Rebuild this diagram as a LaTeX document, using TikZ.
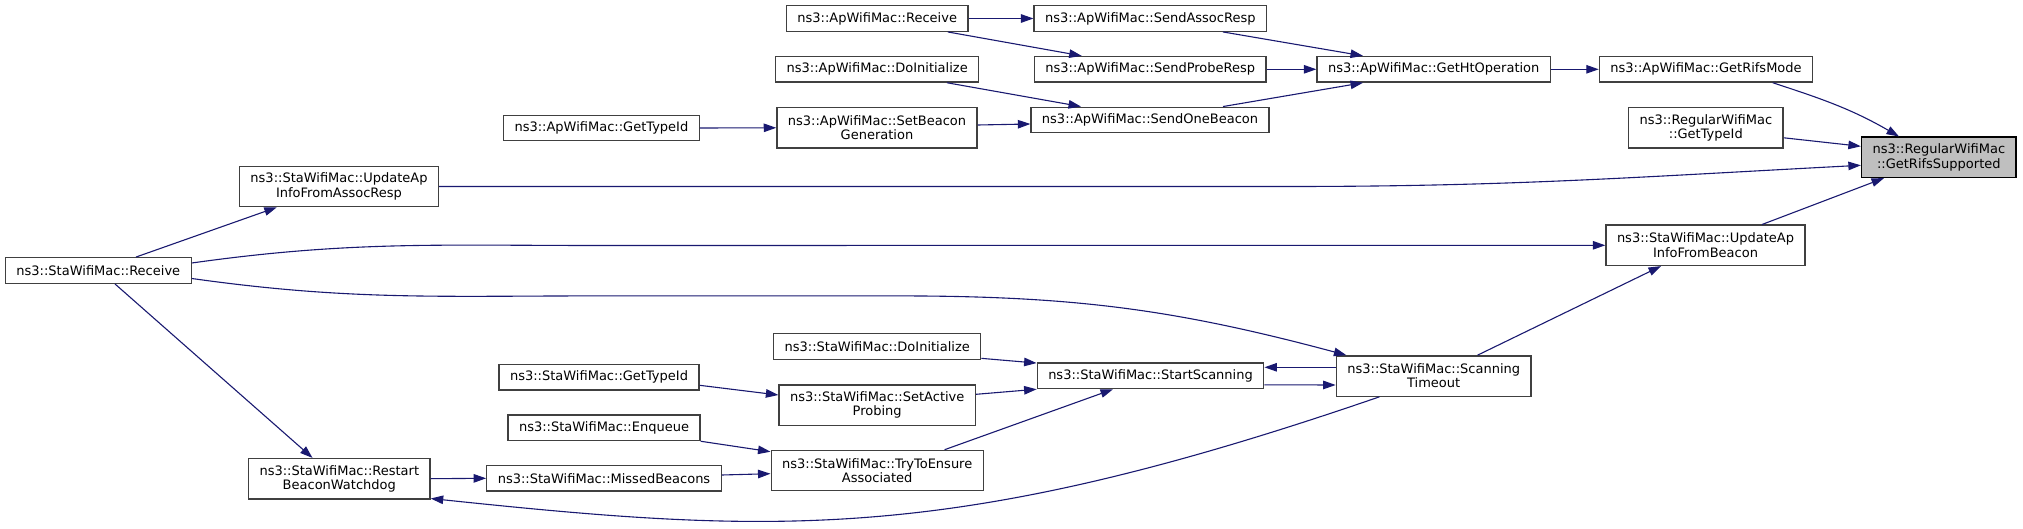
\documentclass[tikz,border=0pt]{standalone}
\usepackage{fontspec}
\setmainfont{DejaVu Sans}
\usepackage{tikz}
\usetikzlibrary{arrows.meta,calc}
\definecolor{edgeblue}{HTML}{191970}
\definecolor{boxline}{HTML}{404040}
\definecolor{hlfill}{HTML}{BFBFBF}

\begin{document}
\begin{tikzpicture}[x=1pt,y=1pt,
  font=\fontsize{13pt}{14.3pt}\selectfont,
  >={Triangle[length=12.5pt,width=8.5pt]},
  fn/.style={draw=boxline,line width=1.3pt,fill=white,inner xsep=11pt,inner ysep=2pt,minimum height=25.6pt,align=center},
  fnn/.style={fn,minimum height=40.3pt},
  hl/.style={fnn,draw=black,fill=hlfill},
  edge/.style={->,draw=edgeblue,line width=1.1pt}]
\useasboundingbox (0,0) rectangle (2023,-529);

% ApWifiMac side
\node[fn] (apRecv) at (877.2,-18.5) {ns3::ApWifiMac::Receive};
\node[fn] (apAssoc) at (1150.3,-18.5) {ns3::ApWifiMac::SendAssocResp};
\node[fn] (apInit) at (877.2,-69.3) {ns3::ApWifiMac::DoInitialize};
\node[fn] (apProbe) at (1150.2,-69.3) {ns3::ApWifiMac::SendProbeResp};
\node[fn] (apHt) at (1433.7,-69.3) {ns3::ApWifiMac::GetHtOperation};
\node[fn] (apRifs) at (1706,-69.3) {ns3::ApWifiMac::GetRifsMode};
\node[fn] (apType) at (601.4,-128) {ns3::ApWifiMac::GetTypeId};
\node[fnn] (apBeaconGen) at (877,-127.8) {ns3::ApWifiMac::SetBeacon\\Generation};
\node[fn] (apOneBeacon) at (1150,-120) {ns3::ApWifiMac::SendOneBeacon};
\node[fnn] (regType) at (1705.8,-127.8) {ns3::RegularWifiMac\\::GetTypeId};
\node[hl] (rifs) at (1938.8,-157.3) {ns3::RegularWifiMac\\::GetRifsSupported};

% StaWifiMac side
\node[fnn] (staAssoc) at (339,-186.5) {ns3::StaWifiMac::UpdateAp\\InfoFromAssocResp};
\node[fnn] (staBeacon) at (1705.5,-245.3) {ns3::StaWifiMac::UpdateAp\\InfoFromBeacon};
\node[fn] (staRecv) at (98.3,-270.5) {ns3::StaWifiMac::Receive};
\node[fn] (staInit) at (877.2,-346.5) {ns3::StaWifiMac::DoInitialize};
\node[fn] (staScan) at (1150.5,-375.8) {ns3::StaWifiMac::StartScanning};
\node[fnn] (staTimeout) at (1433.7,-376) {ns3::StaWifiMac::Scanning\\Timeout};
\node[fn] (staType) at (599,-377.3) {ns3::StaWifiMac::GetTypeId};
\node[fnn] (staProbe) at (877.2,-405) {ns3::StaWifiMac::SetActive\\Probing};
\node[fn] (staEnq) at (604,-427.8) {ns3::StaWifiMac::Enqueue};
\node[fnn] (staEnsure) at (877.2,-470.5) {ns3::StaWifiMac::TryToEnsure\\Associated};
\node[fn] (staMissed) at (604,-478.3) {ns3::StaWifiMac::MissedBeacons};
\node[fnn] (staRestart) at (339.3,-478.7) {ns3::StaWifiMac::Restart\\BeaconWatchdog};

% calls
\draw[edge] (apRecv.east) -- (apAssoc.west);
\draw[edge] ([xshift=70.6pt]apRecv.south) -- ([xshift=-68.5pt]apProbe.north);
\draw[edge] ([xshift=72.7pt]apAssoc.south) -- ([xshift=-70.7pt]apHt.north);
\draw[edge] (apProbe.east) -- (apHt.west);
\draw[edge] ([xshift=73pt]apOneBeacon.north) -- ([xshift=-70.7pt]apHt.south);
\draw[edge] ([xshift=69.8pt]apInit.south) -- ([xshift=-69pt]apOneBeacon.north);
\draw[edge] ([yshift=2.8pt]apBeaconGen.east) -- ([yshift=-4pt]apOneBeacon.west);
\draw[edge] (apType.east) -- (apBeaconGen.west);
\draw[edge] (apHt.east) -- (apRifs.west);
\draw[edge] ([xshift=66.7pt]apRifs.south) to[out=-18,in=150] ([xshift=-39.8pt]rifs.north);
\draw[edge] ([yshift=-10pt]regType.east) -- ([yshift=11pt]rifs.west);
\draw[edge] (staAssoc.east) -- ++(850,0) to[out=0,in=183] ([yshift=-8pt]rifs.west);
\draw[edge] ([xshift=56.5pt]staBeacon.north) -- ([xshift=-54.8pt]rifs.south);

\draw[edge] ([xshift=37.7pt]staRecv.north) -- ([xshift=-62.2pt]staAssoc.south);
\draw[edge] ([yshift=7.5pt]staRecv.east) to[out=8,in=180] ++(406,17.5) -- (staBeacon.west);
\draw[edge] ([yshift=-8pt]staRecv.east) to[out=-8,in=180] ++(406,-17.4) -- ++(298,0)
  to[out=0,in=165] ([xshift=-87.3pt]staTimeout.north);
\draw[edge] ([xshift=16.7pt]staRecv.south) -- ([xshift=-26.8pt]staRestart.north);
\draw[edge] ([xshift=43.8pt]staTimeout.north) -- ([xshift=-44.5pt]staBeacon.south);
\draw[edge] ([yshift=8.7pt]staTimeout.west) -- ([yshift=8.5pt]staScan.east);
\draw[edge] ([yshift=-9pt]staScan.east) -- ([yshift=-9pt]staTimeout.west);
\draw[edge] ([yshift=1.6pt]staInit.south east) -- ([yshift=-0.7pt]staScan.north west);
\draw[edge] ([yshift=10.7pt]staProbe.east) -- (staScan.south west);
\draw[edge] ([xshift=67.4pt]staEnsure.north) -- ([xshift=-37.5pt]staScan.south);
\draw[edge] ([yshift=-8pt]staType.east) -- ([yshift=10pt]staProbe.west);
\draw[edge] (staEnq.south east) -- ([yshift=-2pt]staEnsure.north west);
\draw[edge] ([yshift=3.3pt]staMissed.east) -- ([yshift=-3.2pt]staEnsure.west);
\draw[edge] (staRestart.east) -- (staMissed.west);
\draw[edge] ([xshift=-54.2pt]staTimeout.south) to[out=-161,in=-6,out distance=450pt,in distance=350pt]
  ([yshift=1pt]staRestart.south east);
\end{tikzpicture}
\end{document}
